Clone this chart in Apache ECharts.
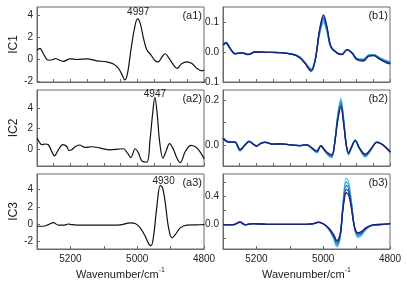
<!DOCTYPE html>
<html>
<head>
<meta charset="utf-8">
<script src="https://cdn.jsdelivr.net/npm/echarts@6/dist/echarts.min.js"></script>
<style>
  html, body { margin: 0; padding: 0; background: #fff; }
  #chart { width: 407px; height: 284px; }
</style>
</head>
<body>
<div id="chart"></div>
<script>
// ---- data (wavenumber in cm-1) ----
var a1X = [5300,5291,5281,5266,5251,5246,5231,5221,5201,5181,5151,5121,5091,5071,5056,5046,5037,5029,5019,5009,4999,4991,4981,4971,4959,4946,4937,4926,4916,4906,4891,4881,4866,4851,4836,4821,4806,4799];
var a1Y = [0.83,1.0,0.5,-0.1,-0.03,0.06,-0.1,-0.2,0.03,-0.03,0.03,-0.15,-0.25,-0.45,-0.85,-1.4,-1.9,-1.3,0.8,2.7,3.7,3.3,1.9,0.85,0.4,-0.15,-0.25,0.2,0.5,0.15,-0.55,-0.85,-0.4,-0.25,-0.4,-0.85,-1.07,-1.0];

var a2X = [5300,5293,5286,5276,5266,5256,5248,5236,5223,5211,5204,5196,5186,5173,5156,5136,5111,5081,5056,5041,5029,5019,5006,4996,4986,4971,4961,4954,4947,4940,4933,4923,4914,4903,4891,4881,4871,4856,4839,4821,4806,4799];
var a2Y = [1.07,0.67,0.4,0.47,0.4,-0.27,-0.7,-0.1,0.4,0.23,-0.17,-0.1,0.2,0.37,0.13,0.2,0.07,-0.1,-0.03,0.0,-0.43,-0.87,0.0,-0.43,-1.2,-1.33,1.07,3.4,5.07,3.4,0.73,-0.93,-0.27,0.5,-0.1,-0.93,-1.37,-0.27,0.33,0.07,-0.6,-1.0];

var a3X = [5300,5281,5266,5251,5236,5221,5206,5196,5171,5131,5091,5051,5021,5006,4991,4976,4964,4958,4951,4941,4931,4924,4916,4906,4896,4886,4871,4851,4821,4799];
var a3Y = [-0.26,-0.26,-0.07,0.17,-0.14,-0.14,0.0,-0.07,-0.14,-0.14,-0.14,-0.1,0.13,0.05,-0.45,-1.42,-2.39,-2.5,-1.42,2.07,4.48,4.2,2.45,-0.45,-1.6,-1.23,-0.45,-0.14,-0.1,-0.07];

// right column: five reconstructed spectra each, navy (L0) to cyan (L4)
var b1X = [5300,5291,5279,5264,5244,5224,5204,5169,5129,5089,5069,5054,5036,5024,5011,4999,4989,4977,4959,4944,4929,4914,4899,4879,4864,4849,4829,4809,4799];
var b1L0 = [0.024,0.032,0.013,-0.006,-0.003,-0.009,0.000,-0.001,-0.002,-0.009,-0.020,-0.039,-0.064,-0.028,0.074,0.124,0.086,0.019,-0.003,-0.009,0.008,-0.003,-0.026,-0.030,-0.014,-0.012,-0.026,-0.037,-0.039];
var b1L1 = [0.023,0.031,0.013,-0.006,-0.003,-0.008,0.000,-0.001,-0.002,-0.009,-0.020,-0.038,-0.062,-0.027,0.070,0.117,0.082,0.018,-0.003,-0.008,0.008,-0.003,-0.025,-0.028,-0.013,-0.011,-0.024,-0.035,-0.037];
var b1L2 = [0.022,0.030,0.012,-0.006,-0.003,-0.008,0.000,-0.001,-0.002,-0.008,-0.019,-0.037,-0.060,-0.027,0.066,0.110,0.078,0.017,-0.003,-0.008,0.007,-0.003,-0.023,-0.027,-0.012,-0.010,-0.023,-0.033,-0.035];
var b1L3 = [0.021,0.029,0.012,-0.005,-0.002,-0.007,0.000,-0.001,-0.002,-0.008,-0.018,-0.036,-0.058,-0.026,0.062,0.103,0.073,0.016,-0.002,-0.007,0.007,-0.002,-0.022,-0.025,-0.011,-0.010,-0.021,-0.031,-0.033];
var b1L4 = [0.020,0.028,0.011,-0.005,-0.002,-0.007,0.000,-0.001,-0.002,-0.007,-0.017,-0.035,-0.056,-0.025,0.058,0.096,0.068,0.015,-0.002,-0.007,0.006,-0.002,-0.020,-0.023,-0.010,-0.009,-0.019,-0.029,-0.031];

var b2X = [5300,5289,5274,5264,5249,5234,5222,5209,5199,5189,5174,5149,5129,5099,5069,5049,5034,5019,5007,4997,4984,4974,4964,4957,4947,4939,4931,4924,4917,4904,4891,4874,4859,4839,4824,4809,4799];
var b2L0 = [0.030,0.015,0.012,0.012,-0.020,0.000,0.015,0.003,-0.005,0.005,0.011,0.003,0.005,0.000,-0.003,0.000,-0.013,-0.027,-0.003,-0.020,-0.038,-0.044,0.025,0.105,0.170,0.098,0.000,-0.035,-0.015,0.018,-0.015,-0.042,-0.022,0.011,0.003,-0.015,-0.030];
var b2L1 = [0.031,0.016,0.012,0.012,-0.022,0.000,0.016,0.003,-0.005,0.005,0.011,0.003,0.005,0.000,-0.003,0.000,-0.014,-0.029,-0.003,-0.021,-0.041,-0.047,0.027,0.111,0.180,0.104,0.000,-0.038,-0.016,0.019,-0.016,-0.045,-0.023,0.011,0.003,-0.016,-0.032];
var b2L2 = [0.032,0.016,0.013,0.012,-0.024,0.000,0.016,0.003,-0.005,0.005,0.011,0.003,0.005,0.000,-0.003,0.000,-0.015,-0.031,-0.003,-0.023,-0.044,-0.051,0.028,0.118,0.191,0.110,0.000,-0.040,-0.017,0.020,-0.017,-0.048,-0.025,0.012,0.003,-0.017,-0.034];
var b2L3 = [0.033,0.017,0.013,0.013,-0.026,0.000,0.017,0.003,-0.006,0.006,0.012,0.003,0.005,0.000,-0.004,0.000,-0.016,-0.034,-0.004,-0.024,-0.047,-0.054,0.030,0.124,0.201,0.116,0.000,-0.043,-0.018,0.021,-0.018,-0.051,-0.026,0.012,0.003,-0.018,-0.036];
var b2L4 = [0.034,0.018,0.014,0.013,-0.028,0.000,0.018,0.003,-0.006,0.006,0.012,0.003,0.005,0.000,-0.004,0.000,-0.017,-0.036,-0.004,-0.026,-0.050,-0.058,0.032,0.130,0.212,0.122,0.000,-0.046,-0.019,0.022,-0.019,-0.055,-0.028,0.013,0.003,-0.019,-0.038];

var b3X = [5300,5269,5249,5234,5209,5169,5129,5089,5049,5029,5014,4999,4984,4969,4959,4949,4941,4931,4924,4916,4906,4896,4886,4871,4851,4821,4799];
var b3L0 = [-0.010,-0.010,0.025,-0.010,0.005,-0.005,-0.005,-0.005,-0.005,0.005,0.022,0.000,-0.055,-0.150,-0.240,-0.140,0.200,0.450,0.420,0.240,-0.045,-0.125,-0.110,-0.050,-0.012,-0.005,0.005];
var b3L1 = [-0.010,-0.010,0.027,-0.010,0.005,-0.005,-0.005,-0.005,-0.005,0.005,0.024,0.000,-0.060,-0.165,-0.262,-0.154,0.222,0.500,0.468,0.268,-0.050,-0.142,-0.125,-0.056,-0.013,-0.005,0.005];
var b3L2 = [-0.011,-0.011,0.028,-0.011,0.005,-0.005,-0.005,-0.005,-0.005,0.005,0.026,0.000,-0.065,-0.180,-0.285,-0.168,0.245,0.555,0.515,0.295,-0.055,-0.160,-0.140,-0.062,-0.015,-0.006,0.005];
var b3L3 = [-0.011,-0.011,0.030,-0.011,0.006,-0.006,-0.006,-0.006,-0.006,0.006,0.028,0.000,-0.070,-0.195,-0.308,-0.182,0.268,0.608,0.562,0.322,-0.060,-0.178,-0.155,-0.068,-0.016,-0.006,0.006];
var b3L4 = [-0.012,-0.012,0.032,-0.012,0.006,-0.006,-0.006,-0.006,-0.006,0.006,0.030,0.000,-0.075,-0.210,-0.330,-0.195,0.290,0.660,0.610,0.350,-0.065,-0.195,-0.170,-0.075,-0.018,-0.007,0.006];

var peaks = [[4997, 3.7], [4947, 5.07], [4930, 4.48]];
var xTickLabels = [5200, 5000, 4800];
var yNames = ["IC1", "IC2", "IC3"];
var tagsA = ["(a1)", "(a2)", "(a3)"];
var tagsB = ["(b1)", "(b2)", "(b3)"];

// ---- layout ----
var FONT = "Liberation Sans";
var TXT = "#222";
var FRAME = "#6a6a6a";
var lineColors = ["#1c2378", "#2a4aa6", "#3478c0", "#3ba6d6", "#5ccfe5"]; // L0..L4
var rows = [{ top: 7, height: 75 }, { top: 90, height: 76 }, { top: 174, height: 75 }];
var colLeft = [37, 223];
var yRanges = [
  { min: -2.1, max: 4.8, labels: [-2, 0, 2, 4], ticks: [-2, 0, 2, 4] },
  { min: -0.1, max: 0.15, labels: [-0.1, 0, 0.1], ticks: [-0.1, 0, 0.1] },
  { min: -1.7, max: 5.8, labels: [0, 2, 4], ticks: [0, 2, 4] },
  { min: -0.095, max: 0.247, labels: [0, 0.2], ticks: [0, 0.1, 0.2] },
  { min: -2.9, max: 5.8, labels: [-2, 0, 2, 4], ticks: [-2, 0, 2, 4] },
  { min: -0.36, max: 0.72, labels: [0, 0.4], ticks: [-0.2, 0, 0.2, 0.4, 0.6] }
];
var peakOffsets = [[0, -7], [0, -3], [3, -4]];

function pairs(xs, ys) {
  return xs.map(function (x, i) { return [x, ys[i]]; });
}

var grids = [], xAxes = [], yAxes = [], series = [];
for (var r = 0; r < 3; r++) {
  for (var c = 0; c < 2; c++) {
    var gi = r * 2 + c;
    grids.push({
      left: colLeft[c], width: 167, top: rows[r].top, height: rows[r].height,
      show: true, borderColor: FRAME, borderWidth: 1, backgroundColor: "transparent"
    });
    var bottom = r === 2;
    xAxes.push({
      type: "value", gridIndex: gi, min: 4800, max: 5300, inverse: true,
      interval: bottom ? 100 : 50,
      axisLine: { show: true, onZero: false, lineStyle: { color: FRAME } },
      axisTick: { show: true, inside: true, length: 3, lineStyle: { color: FRAME } },
      splitLine: { show: false },
      axisLabel: {
        show: bottom, margin: 5, fontFamily: FONT, fontSize: 10, color: TXT,
        showMinLabel: true, showMaxLabel: true,
        formatter: function (v) { return xTickLabels.indexOf(v) >= 0 ? String(v) : ""; }
      },
      name: bottom ? "Wavenumber/cm{s|-1}" : "",
      nameLocation: "middle", nameGap: 18,
      nameTextStyle: {
        fontFamily: FONT, fontSize: 11, color: TXT,
        rich: { s: { fontFamily: FONT, fontSize: 7, color: TXT, verticalAlign: "top", padding: [0, 0, 8, 0] } }
      }
    });
    var yr = yRanges[gi];
    yAxes.push({
      type: "value", gridIndex: gi, min: yr.min, max: yr.max,
      axisLine: { show: true, onZero: false, lineStyle: { color: FRAME } },
      axisTick: { show: true, inside: true, length: 3, lineStyle: { color: FRAME }, customValues: yr.ticks },
      splitLine: { show: false },
      axisLabel: {
        margin: 4, fontFamily: FONT, fontSize: 10, color: TXT, customValues: yr.labels,
        formatter: c === 0 ? function (v) { return String(Math.round(v)); }
                           : function (v) { return (Math.abs(v) < 1e-9 ? 0 : v).toFixed(1); }
      },
      name: c === 0 ? yNames[r] : "",
      nameLocation: "middle", nameGap: 17, nameRotate: 90,
      nameTextStyle: { fontFamily: FONT, fontSize: 12, color: TXT }
    });
  }
}

var aData = [[a1X, a1Y], [a2X, a2Y], [a3X, a3Y]];
var bData = [
  [b1X, [b1L0, b1L1, b1L2, b1L3, b1L4]],
  [b2X, [b2L0, b2L1, b2L2, b2L3, b2L4]],
  [b3X, [b3L0, b3L1, b3L2, b3L3, b3L4]]
];

for (var k = 0; k < 3; k++) {
  series.push({
    type: "line", xAxisIndex: k * 2, yAxisIndex: k * 2,
    data: pairs(aData[k][0], aData[k][1]),
    smooth: 0.35, showSymbol: false, symbol: "none",
    lineStyle: { color: "#111", width: 1.2 },
    markPoint: {
      symbol: "circle", symbolSize: 0, silent: true,
      label: {
        show: true, position: "inside", offset: peakOffsets[k],
        fontFamily: FONT, fontSize: 10, color: TXT,
        formatter: String(peaks[k][0])
      },
      data: [{ coord: peaks[k] }]
    }
  });
  // cyan first so the navy curve ends up on top
  for (var j = 4; j >= 0; j--) {
    series.push({
      type: "line", xAxisIndex: k * 2 + 1, yAxisIndex: k * 2 + 1,
      data: pairs(bData[k][0], bData[k][1][j]),
      smooth: 0.35, showSymbol: false, symbol: "none",
      lineStyle: { color: lineColors[j], width: 1.3 }
    });
  }
}

var graphics = [];
for (var t = 0; t < 3; t++) {
  graphics.push({
    type: "text", right: 407 - 202, top: rows[t].top + 3,
    style: { text: tagsA[t], font: "11px " + FONT, fill: TXT }
  });
  graphics.push({
    type: "text", right: 407 - 388, top: rows[t].top + 3,
    style: { text: tagsB[t], font: "11px " + FONT, fill: TXT }
  });
}

var myChart = echarts.init(document.getElementById("chart"), null, { renderer: "canvas" });
myChart.setOption({
  animation: false,
  backgroundColor: "#fff",
  grid: grids,
  xAxis: xAxes,
  yAxis: yAxes,
  series: series,
  graphic: graphics
});
</script>
</body>
</html>
